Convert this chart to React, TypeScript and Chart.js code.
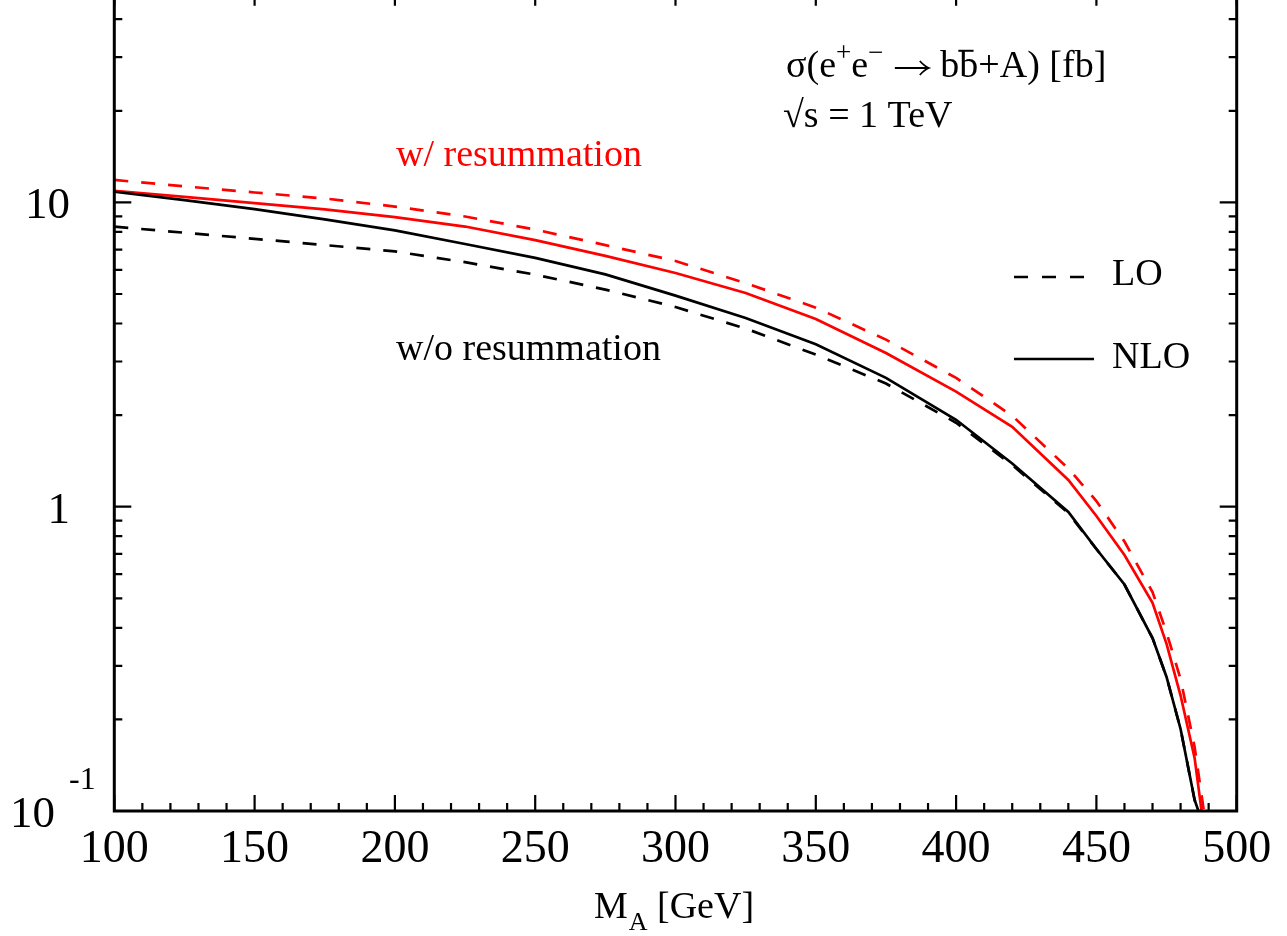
import { useEffect, useRef } from "react";
import { Chart, registerables } from "chart.js";

Chart.register(...registerables);

// Pseudoscalar mass M_A in GeV
const MASS_GEV = [100, 125, 150, 175, 200, 225, 250, 275, 300, 325, 350, 375, 400, 420, 440, 450, 460, 470, 475, 480, 485, 490];

// sigma(e+e- -> b bbar + A) in fb, sqrt(s) = 1 TeV
const LO_RESUMMED = [11.85, 11.29, 10.78, 10.3, 9.69, 8.99, 8.14, 7.24, 6.42, 5.43, 4.51, 3.54, 2.65, 1.99, 1.335, 1.044, 0.768, 0.524, 0.386, 0.2716, 0.1623, 0.0779];
const NLO_RESUMMED = [10.92, 10.42, 9.95, 9.48, 8.95, 8.33, 7.52, 6.67, 5.86, 5.04, 4.14, 3.2, 2.39, 1.83, 1.224, 0.932, 0.694, 0.483, 0.354, 0.2396, 0.1494, 0.0665];
const LO_FIXED = [8.32, 7.95, 7.59, 7.24, 6.9, 6.36, 5.79, 5.17, 4.53, 3.85, 3.16, 2.54, 1.887, 1.371, 0.953, 0.726, 0.555, 0.37, 0.2756, 0.186, 0.1087, 0.0803];
const NLO_FIXED = [10.84, 10.18, 9.51, 8.79, 8.09, 7.3, 6.57, 5.8, 4.94, 4.17, 3.42, 2.65, 1.93, 1.387, 0.961, 0.726, 0.555, 0.37, 0.2756, 0.186, 0.1087, 0.0803];

// Axis ranges and ticks
const X_MIN = 100;
const X_MAX = 500;
const X_MAJOR_STEP = 50;
const X_MINOR_STEP = 10;
const Y_MIN = 0.1;
const Y_MAX = 50;
const Y_MAJOR = [1, 10];
const Y_MINOR = [0.2, 0.3, 0.4, 0.5, 0.6, 0.7, 0.8, 0.9, 2, 3, 4, 5, 6, 7, 8, 9, 20, 30, 40];

const RED = "#ff0000";
const BLACK = "#000000";
const SERIF = '"Liberation Serif", "Times New Roman", serif';
const DASH = [14, 13];

const W = 1287;
const H = 956;

type Seg = { t: string; size: number; dy?: number; bar?: boolean; arrow?: number };

function drawRich(ctx: CanvasRenderingContext2D, x: number, y: number, segs: Seg[]) {
  let cx = x;
  for (const s of segs) {
    if (s.arrow) {
      // long right arrow
      const ay = y - 9;
      const x0 = cx + 2;
      const x1 = cx + s.arrow - 2;
      ctx.save();
      ctx.lineWidth = 1.8;
      ctx.beginPath();
      ctx.moveTo(x0, ay);
      ctx.lineTo(x1, ay);
      ctx.moveTo(x1 - 9, ay - 7);
      ctx.quadraticCurveTo(x1 - 4, ay - 1.5, x1, ay);
      ctx.quadraticCurveTo(x1 - 4, ay + 1.5, x1 - 9, ay + 7);
      ctx.stroke();
      ctx.restore();
      cx += s.arrow;
      continue;
    }
    ctx.font = `${s.size}px ${SERIF}`;
    const w = ctx.measureText(s.t).width;
    ctx.fillText(s.t, cx, y + (s.dy || 0));
    if (s.bar) {
      ctx.save();
      ctx.lineWidth = 2;
      ctx.beginPath();
      const by = y - s.size * 0.69;
      ctx.moveTo(cx - 1, by);
      ctx.lineTo(cx + w * 0.75, by);
      ctx.stroke();
      ctx.restore();
    }
    cx += w;
  }
}

const framePlugin = {
  id: "frameAndLabels",
  afterDatasetsDraw(chart: any) {
    const { ctx, chartArea: a, scales } = chart;
    const xs = scales.x;
    const ys = scales.y;
    ctx.save();
    ctx.strokeStyle = BLACK;
    ctx.fillStyle = BLACK;

    // ticks (inward, on all four sides)
    ctx.lineWidth = 2.2;
    ctx.beginPath();
    for (let m = X_MIN; m <= X_MAX; m += X_MINOR_STEP) {
      const px = xs.getPixelForValue(m);
      const len = (m - X_MIN) % X_MAJOR_STEP === 0 ? 16 : 8;
      ctx.moveTo(px, a.bottom);
      ctx.lineTo(px, a.bottom - len);
      ctx.moveTo(px, a.top);
      ctx.lineTo(px, a.top + len);
    }
    const yTicks = [...Y_MAJOR.map((v) => [v, 17]), ...Y_MINOR.map((v) => [v, 8])];
    for (const [v, len] of yTicks) {
      const py = ys.getPixelForValue(v);
      ctx.moveTo(a.left, py);
      ctx.lineTo(a.left + len, py);
      ctx.moveTo(a.right, py);
      ctx.lineTo(a.right - len, py);
    }
    ctx.stroke();

    // frame
    ctx.lineWidth = 3;
    ctx.strokeRect(a.left, a.top, a.right - a.left, a.bottom - a.top);

    // x tick labels
    ctx.font = `46px ${SERIF}`;
    ctx.textAlign = "center";
    ctx.textBaseline = "alphabetic";
    for (let m = X_MIN; m <= X_MAX; m += X_MAJOR_STEP) {
      ctx.fillText(String(m), xs.getPixelForValue(m), a.bottom + 51);
    }

    // y tick labels
    ctx.textAlign = "right";
    ctx.font = `45px ${SERIF}`;
    ctx.fillText("10", 70, ys.getPixelForValue(10) + 15.5);
    ctx.fillText("1", 70, ys.getPixelForValue(1) + 16);
    const p01 = ys.getPixelForValue(Y_MIN);
    ctx.fillText("10", 55, p01 + 16);
    ctx.textAlign = "left";
    ctx.font = `32px ${SERIF}`;
    ctx.fillText("-1", 69, p01 - 22);

    // x axis title
    ctx.font = `38px ${SERIF}`;
    ctx.fillText("M", 594, a.bottom + 107);
    const mW = ctx.measureText("M").width;
    ctx.font = `26px ${SERIF}`;
    ctx.fillText("A", 594 + mW + 1, a.bottom + 119);
    ctx.font = `38px ${SERIF}`;
    ctx.fillText("[GeV]", 657, a.bottom + 107);

    // process label
    drawRich(ctx, 786, 97, [
      { t: "σ(e", size: 38 },
      { t: "+", size: 27, dy: -16 },
      { t: "e", size: 38 },
      { t: "−", size: 27, dy: -16 },
      { t: " ", size: 38 },
      { t: "", size: 38, arrow: 38 },
      { t: " b", size: 38 },
      { t: "b", size: 38, bar: true },
      { t: "+A) [fb]", size: 38 },
    ]);
    drawRich(ctx, 783, 147, [{ t: "√s = 1 TeV", size: 38 }]);

    // curve captions
    ctx.font = `38px ${SERIF}`;
    ctx.fillStyle = RED;
    ctx.fillText("w/ resummation", 396, 186);
    ctx.fillStyle = BLACK;
    ctx.fillText("w/o resummation", 396, 380);

    // key
    ctx.fillText("LO", 1112, 305);
    ctx.fillText("NLO", 1112, 388);
    ctx.lineWidth = 2.6;
    ctx.setLineDash([14, 14]);
    ctx.beginPath();
    ctx.moveTo(1014, 297);
    ctx.lineTo(1085, 297);
    ctx.stroke();
    ctx.setLineDash([]);
    ctx.beginPath();
    ctx.moveTo(1014, 379);
    ctx.lineTo(1094, 379);
    ctx.stroke();

    ctx.restore();
  },
};

function series(values: number[]) {
  return MASS_GEV.map((m, i) => ({ x: m, y: values[i] }));
}

export default function App() {
  const ref = useRef<HTMLCanvasElement>(null);

  useEffect(() => {
    const canvas = ref.current;
    if (!canvas) return;
    const common = { pointRadius: 0, borderWidth: 2.7, tension: 0, fill: false, borderCapStyle: "butt" as const };
    const chart = new Chart(canvas, {
      type: "line",
      data: {
        datasets: [
          { label: "NLO w/o resummation", data: series(NLO_FIXED), borderColor: BLACK, ...common },
          { label: "LO w/o resummation", data: series(LO_FIXED), borderColor: BLACK, borderDash: DASH, ...common },
          { label: "NLO w/ resummation", data: series(NLO_RESUMMED), borderColor: RED, ...common },
          { label: "LO w/ resummation", data: series(LO_RESUMMED), borderColor: RED, borderDash: DASH, ...common },
        ],
      },
      options: {
        animation: false,
        responsive: false,
        devicePixelRatio: 1,
        layout: { padding: { left: 114.3, right: W - 1236.7, top: 9.7, bottom: H - 831 } },
        scales: {
          x: { type: "linear", min: X_MIN, max: X_MAX, display: false },
          y: { type: "logarithmic", min: Y_MIN, max: Y_MAX, display: false },
        },
        plugins: { legend: { display: false }, tooltip: { enabled: false } },
      },
      plugins: [framePlugin],
    });
    return () => chart.destroy();
  }, []);

  return (
    <div style={{ position: "absolute", left: 0, top: -20, width: W, height: H, background: "#fff" }}>
      <canvas ref={ref} width={W} height={H} style={{ display: "block", width: W, height: H }} />
    </div>
  );
}
